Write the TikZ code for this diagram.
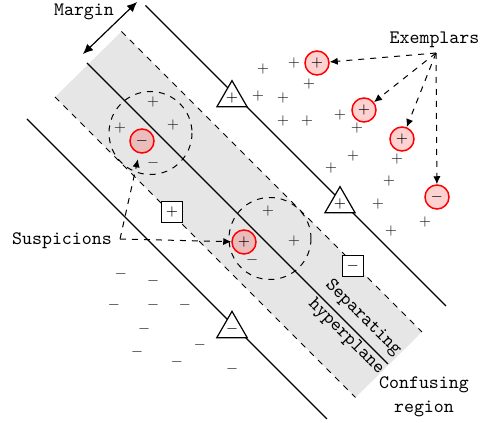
\documentclass[tikz,border=0pt]{standalone}
\usepackage{tikz}
\usetikzlibrary{arrows.meta,shapes.geometric}
\definecolor{regiongray}{HTML}{E6E6E6}
\newcommand{\pl}{$+$}
\newcommand{\mi}{$-$}
\tikzset{
	sign/.style={font=\fontsize{7}{8}\selectfont, inner sep=0pt, text=black!85},
	label/.style={font=\fontsize{9.5}{12}\ttfamily, inner sep=0pt, align=center},
	exemplar/.style={circle, draw=red, line width=0.75pt, fill=red, fill opacity=0.18, text opacity=1, minimum size=12pt, inner sep=0pt, font=\fontsize{7}{8}\selectfont},
	supvec/.style={regular polygon, regular polygon sides=3, draw, line width=0.6pt, fill=white, minimum size=13.3pt, inner sep=0pt, font=\fontsize{7}{8}\selectfont},
	suspect/.style={rectangle, draw, line width=0.6pt, fill=white, minimum size=10.5pt, inner sep=0pt, font=\fontsize{7}{8}\selectfont},
	pointer/.style={dashed, line width=0.5pt, -{Latex[length=4pt,width=3.6pt]}},
}
\begin{document}
\begin{tikzpicture}[x=0.5pt, y=-0.5pt]
	\useasboundingbox (0,0) rectangle (489,423);
	% confusing region
	\coordinate (ud1) at (121.5,31.5);  \coordinate (ud2) at (422,332);
	\coordinate (ld1) at (55,97);       \coordinate (ld2) at (355.5,397.5);
	\fill[regiongray] (ud1) -- (ud2) -- (ld2) -- (ld1) -- cycle;
	\draw[dashed, line width=0.5pt] (ud1) -- (ud2);
	\draw[dashed, line width=0.5pt] (ld1) -- (ld2);
	% hyperplane and margins
	\coordinate (h1) at (87,63);        \coordinate (h2) at (388,364);
	\coordinate (us1) at (145.5,5.5);   \coordinate (us2) at (446,306);
	\coordinate (ls1) at (27,119);      \coordinate (ls2) at (327,419);
	\draw[line width=0.6pt] (h1) -- (h2);
	\draw[line width=0.6pt] (us1) -- (us2);
	\draw[line width=0.6pt] (ls1) -- (ls2);
	% neighbourhoods
	\draw[dashed, line width=0.5pt] (150.5,133) circle[radius=41.5];
	\draw[dashed, line width=0.5pt] (270,238.5) circle[radius=41];
	% positive samples
	\foreach \xCoord/\yCoord [count=\i] in {263/69, 294/63, 309/84, 258/96, 283/98, 283/121, 307/121, 340/115, 357/128, 353/156, 397/159, 331/168, 389/181, 378/204, 425/222, 391/231, 153/102, 120/128, 173/125, 268/211, 294/241}
	{
		\node[sign] (pos\i) at (\xCoord,\yCoord) {\pl};
	}
	% negative samples
	\foreach \xCoord/\yCoord [count=\i] in {121/274, 153/281, 114/305, 153/305, 185/305, 144/329, 200/345, 137/352, 177/362, 232/369, 153/163, 252/260}
	{
		\node[sign] (neg\i) at (\xCoord,\yCoord) {\mi};
	}
	% boundary samples
	\node[supvec] (tri1) at (232,98) {\pl};
	\node[supvec] (tri2) at (340,204) {\pl};
	\node[supvec] (tri3) at (232,329) {\mi};
	\node[suspect] (sq1) at (172,212) {\pl};
	\node[suspect] (sq2) at (353,266) {\mi};
	% exemplars and suspicions
	\node[exemplar] (ex1) at (317,63) {\pl};
	\node[exemplar] (ex2) at (364,110) {\pl};
	\node[exemplar] (ex3) at (402,139) {\pl};
	\node[exemplar] (ex4) at (437,197) {\mi};
	\node[exemplar] (su1) at (142,141) {\mi};
	\node[exemplar] (su2) at (244,242) {\pl};
	% labels
	\coordinate (mA) at (83,54);
	\coordinate (mB) at (137,2);
	\draw[line width=0.6pt, {Latex[length=5pt,width=4.5pt]}-{Latex[length=5pt,width=4.5pt]}] (mA) -- (mB);
	\node[label, anchor=base] (margin) at (84,16) {Margin};
	\node[label, anchor=base] (exlabel) at (434.5,44) {Exemplars};
	\coordinate (exroot) at (436,53);
	\foreach \target in {ex1, ex2, ex3, ex4}
	{
		\draw[pointer] (exroot) -- (\target);
	}
	\node[label, anchor=base] (sulabel) at (62,244) {Suspicions};
	\coordinate (suroot) at (120,239);
	\draw[pointer, shorten >=3pt] (suroot) -- (su1);
	\draw[pointer] (suroot) -- (su2);
	\node[label, rotate=-45] (hyperA) at (363,318) {Separating};
	\node[label, rotate=-45] (hyperB) at (346,337) {hyperplane};
	\node[label] (region) at (424,397) {Confusing\\region};
\end{tikzpicture}
\end{document}
